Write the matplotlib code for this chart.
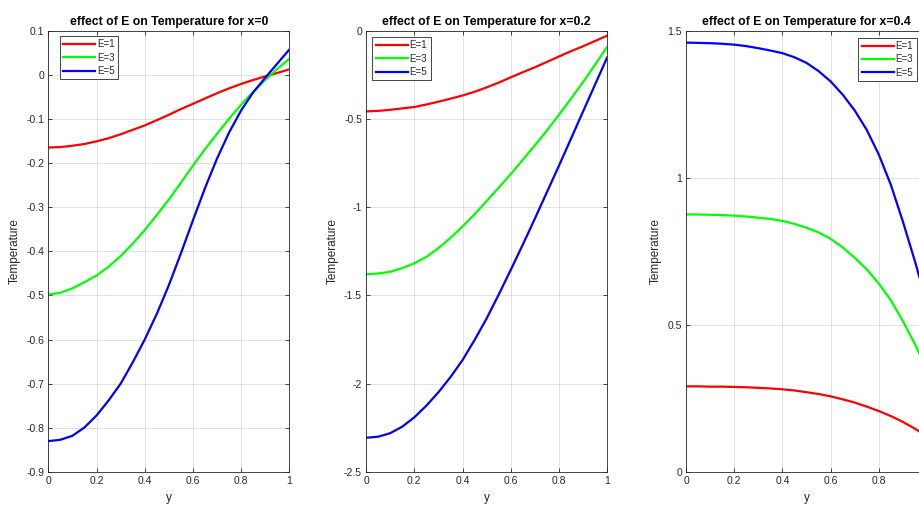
import numpy as np
import matplotlib
matplotlib.use("Agg")
import matplotlib.pyplot as plt

# Values (y = 0, 0.05, ..., 1)
yPts = [0.00, 0.05, 0.10, 0.15, 0.20, 0.25, 0.30, 0.35, 0.40, 0.45, 0.50,
        0.55, 0.60, 0.65, 0.70, 0.75, 0.80, 0.85, 0.90, 0.95, 1.00]

# x = 0
t0_E1 = [-0.165, -0.164, -0.161, -0.157, -0.151, -0.144, -0.135, -0.125, -0.115, -0.103, -0.091,
         -0.078, -0.066, -0.054, -0.042, -0.031, -0.021, -0.012, -0.004, 0.004, 0.012]
t0_E3 = [-0.498, -0.494, -0.484, -0.470, -0.455, -0.435, -0.411, -0.383, -0.352, -0.318, -0.283,
         -0.245, -0.206, -0.169, -0.134, -0.100, -0.068, -0.039, -0.012, 0.013, 0.036]
t0_E5 = [-0.830, -0.827, -0.818, -0.799, -0.772, -0.738, -0.700, -0.652, -0.600, -0.542, -0.477,
         -0.405, -0.330, -0.257, -0.190, -0.131, -0.081, -0.040, -0.007, 0.025, 0.057]

# x = 0.2
t2_E1 = [-0.458, -0.455, -0.449, -0.441, -0.433, -0.419, -0.403, -0.386, -0.368, -0.347, -0.322,
         -0.295, -0.265, -0.236, -0.208, -0.178, -0.147, -0.117, -0.089, -0.059, -0.029]
t2_E3 = [-1.380, -1.376, -1.366, -1.345, -1.318, -1.282, -1.232, -1.174, -1.110, -1.040, -0.965,
         -0.890, -0.813, -0.732, -0.650, -0.566, -0.477, -0.385, -0.292, -0.193, -0.092]
t2_E5 = [-2.306, -2.300, -2.280, -2.243, -2.190, -2.124, -2.048, -1.962, -1.866, -1.752, -1.630,
         -1.495, -1.355, -1.212, -1.065, -0.915, -0.765, -0.612, -0.458, -0.305, -0.152]

# x = 0.4
t4_E1 = [0.291, 0.291, 0.290, 0.290, 0.289, 0.288, 0.286, 0.284, 0.281, 0.277, 0.271,
         0.265, 0.257, 0.247, 0.236, 0.222, 0.207, 0.190, 0.170, 0.147, 0.121]
t4_E3 = [0.875, 0.875, 0.874, 0.873, 0.871, 0.868, 0.864, 0.860, 0.853, 0.843, 0.830,
         0.814, 0.792, 0.763, 0.728, 0.688, 0.640, 0.583, 0.512, 0.434, 0.348]
t4_E5 = [1.459, 1.458, 1.457, 1.455, 1.452, 1.447, 1.440, 1.432, 1.423, 1.409, 1.390,
         1.362, 1.327, 1.282, 1.228, 1.162, 1.078, 0.975, 0.850, 0.715, 0.570]

labels = ["E=1", "E=3", "E=5"]
colors = ["#ff0000", "#00ff00", "#0000ff"]
titles = ["effect of E on Temperature for x=0",
          "effect of E on Temperature for x=0.2",
          "effect of E on Temperature for x=0.4"]

plt.rcParams['font.family'] = ['Liberation Sans', 'DejaVu Sans']
plt.rcParams['axes.unicode_minus'] = False

fig = plt.figure(figsize=(9.2, 5.07), dpi=100)
fig.patch.set_facecolor("white")

axPos = [[0.0525, 0.069, 0.262, 0.8708],
         [0.398, 0.069, 0.262, 0.8708],
         [0.7457, 0.069, 0.262, 0.8708]]

allData = [[t0_E1, t0_E3, t0_E5],
           [t2_E1, t2_E3, t2_E5],
           [t4_E1, t4_E3, t4_E5]]
yLims = [(-0.9, 0.1), (-2.5, 0.0), (0.0, 1.5)]
yTicks = [np.arange(-0.9, 0.11, 0.1),
          np.arange(-2.5, 0.01, 0.5),
          np.arange(0.0, 1.51, 0.5)]
legLoc = ["upper left", "upper left", "upper right"]
legAnchor = [(0.048, 0.988), (0.025, 0.986), (0.957, 0.984)]
xLabs = ["0", "0.2", "0.4", "0.6", "0.8", "1"]

txtCol = "#262626"

for i in range(3):
    ax = fig.add_axes(axPos[i])
    for s, lab, c in zip(allData[i], labels, colors):
        ax.plot(yPts, s, color=c, lw=1.6, label=lab)
    ax.set_xlim(0, 1)
    ax.set_ylim(*yLims[i])
    ax.set_xticks(np.arange(0, 1.01, 0.2))
    # the last label of the 3rd panel falls outside the picture
    ax.set_xticklabels(xLabs if i < 2 else xLabs[:-1] + [""])
    ax.set_yticks(yTicks[i])
    ax.set_yticklabels(["%g" % (round(v, 1) + 0.0) for v in yTicks[i]])
    ax.grid(True, color="#dcdcdc", lw=0.6)
    ax.set_axisbelow(True)
    ax.tick_params(direction="in", top=True, right=True, length=3,
                   width=0.6, colors=txtCol, labelsize=7.5, pad=3)
    for sp in ax.spines.values():
        sp.set_color(txtCol)
        sp.set_linewidth(0.6)
    ax.set_title(titles[i], fontsize=8.8, fontweight="bold", color="black", pad=4)
    ax.set_xlabel("y", fontsize=8.5, color=txtCol, labelpad=4)
    ax.set_ylabel("Temperature", fontsize=8.5, color=txtCol, labelpad=4)
    leg = ax.legend(loc=legLoc[i], bbox_to_anchor=legAnchor[i], borderaxespad=0,
                    fontsize=7, handlelength=3.3, handletextpad=0.2,
                    labelspacing=0.35, borderpad=0.35,
                    fancybox=False, framealpha=1)
    leg.get_frame().set_edgecolor(txtCol)
    leg.get_frame().set_linewidth(0.6)
    for t in leg.get_texts():
        t.set_color(txtCol)

fig.savefig("out.png", dpi=100, facecolor="white")
